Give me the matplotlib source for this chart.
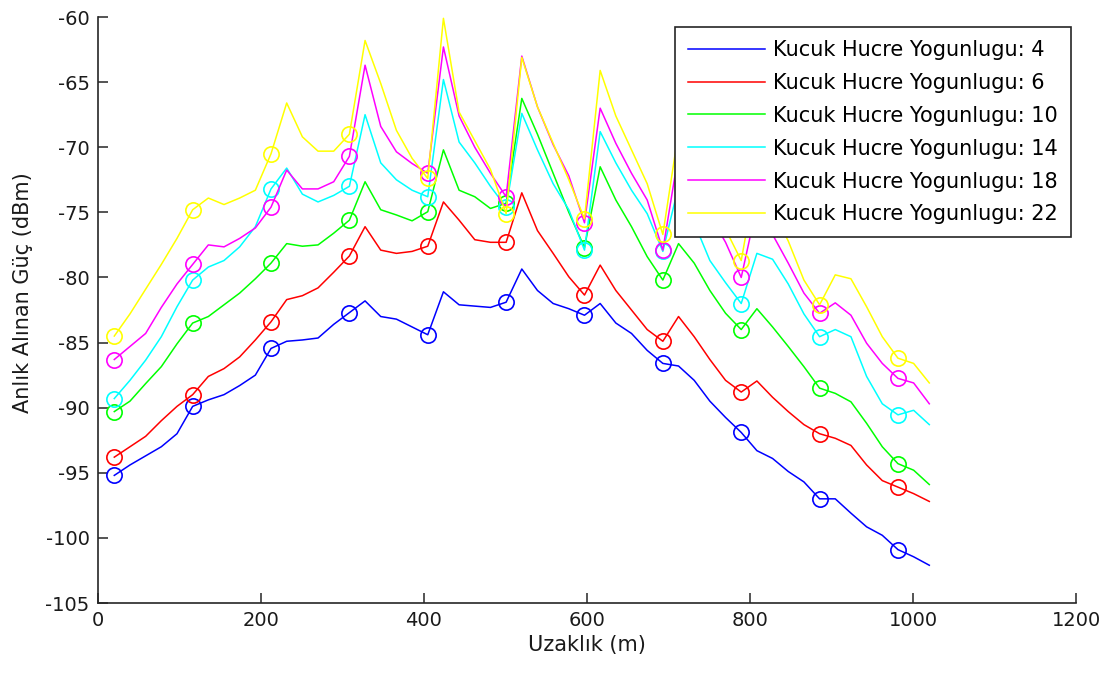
import numpy as np
import matplotlib
matplotlib.use('Agg')
import matplotlib.pyplot as plt

plt.rcParams['font.family'] = ['DejaVu Sans']
plt.rcParams['axes.unicode_minus'] = False

# distance samples (m), one every ~19.2 m
distance = np.linspace(20, 1020, 53)

density = [4, 6, 10, 14, 18, 22]
colors = ['#0000ff', '#ff0000', '#00ff00', '#00ffff', '#ff00ff', '#ffff00']

# received power (dBm)
power_4 = [-95.2, -94.4, -93.7, -93.0, -92.0, -89.9, -89.4, -89.0, -88.3, -87.5,
           -85.45, -84.9, -84.8, -84.65, -83.6, -82.7, -81.8, -83.0, -83.2, -83.8,
           -84.4, -81.1, -82.1, -82.2, -82.3, -81.9, -79.35, -81.0, -82.0, -82.4,
           -82.9, -82.0, -83.5, -84.3, -85.6, -86.6, -86.8, -87.9, -89.5, -90.75,
           -91.9, -93.3, -93.9, -94.9, -95.7, -97.0, -97.0, -98.1, -99.15, -99.8,
           -100.9, -101.45, -102.1]
power_6 = [-93.8, -93.0, -92.2, -91.0, -89.9, -89.0, -87.6, -87.0, -86.1, -84.8,
           -83.4, -81.7, -81.4, -80.8, -79.6, -78.35, -76.1, -77.9, -78.15, -78.0,
           -77.6, -74.2, -75.6, -77.1, -77.3, -77.3, -73.5, -76.4, -78.15, -79.95,
           -81.35, -79.05, -81.0, -82.5, -84.0, -84.9, -83.0, -84.55, -86.3, -87.9,
           -88.8, -87.95, -89.2, -90.3, -91.3, -92.0, -92.35, -92.9, -94.4, -95.6,
           -96.1, -96.6, -97.2]
power_10 = [-90.3, -89.5, -88.15, -86.85, -85.1, -83.5, -83.0, -82.1, -81.2, -80.1,
            -78.9, -77.4, -77.6, -77.5, -76.6, -75.6, -72.65, -74.8, -75.2, -75.65,
            -74.95, -70.2, -73.3, -73.8, -74.7, -74.3, -66.25, -69.0, -72.0, -75.0,
            -77.7, -71.5, -74.05, -76.1, -78.4, -80.2, -77.4, -78.9, -81.0, -82.75,
            -84.0, -82.4, -83.8, -85.3, -86.85, -88.5, -88.9, -89.55, -91.2, -93.0,
            -94.3, -94.8, -95.9]
power_14 = [-89.3, -87.9, -86.35, -84.55, -82.25, -80.2, -79.2, -78.7, -77.65, -76.1,
            -73.2, -71.6, -73.6, -74.2, -73.7, -73.0, -67.5, -71.2, -72.5, -73.3,
            -73.8, -64.8, -69.6, -71.2, -73.0, -74.6, -67.4, -70.2, -72.8, -74.8,
            -77.9, -68.8, -71.2, -73.3, -75.1, -78.0, -73.0, -75.8, -78.7, -80.4,
            -82.0, -78.15, -78.6, -80.5, -82.8, -84.55, -84.0, -84.55, -87.6, -89.7,
            -90.55, -90.2, -91.3]
power_18 = [-86.3, -85.3, -84.3, -82.3, -80.5, -79.0, -77.5, -77.65, -77.0, -76.2,
            -74.6, -71.75, -73.2, -73.2, -72.65, -70.7, -63.7, -68.4, -70.35, -71.25,
            -72.0, -62.3, -67.6, -70.0, -72.0, -73.8, -63.0, -66.9, -69.8, -72.2,
            -75.8, -67.0, -69.7, -72.0, -74.05, -77.9, -70.5, -73.0, -75.2, -77.3,
            -80.0, -74.5, -76.7, -78.9, -81.2, -82.75, -81.95, -82.9, -85.05, -86.6,
            -87.75, -88.1, -89.7]
power_22 = [-84.5, -82.8, -80.9, -79.0, -77.0, -74.8, -73.9, -74.4, -73.9, -73.3,
            -70.5, -66.6, -69.2, -70.3, -70.3, -69.0, -61.8, -65.1, -68.7, -70.85,
            -72.4, -60.1, -67.3, -69.5, -71.7, -75.1, -63.1, -66.9, -69.7, -72.5,
            -75.5, -64.1, -67.6, -70.2, -72.8, -76.7, -68.8, -71.2, -73.5, -76.3,
            -78.7, -72.0, -74.8, -77.2, -80.2, -82.1, -79.8, -80.1, -82.25, -84.55,
            -86.2, -86.6, -88.1]

series = [power_4, power_6, power_10, power_14, power_18, power_22]

fig = plt.figure(figsize=(11.11, 6.73), dpi=100)
ax = fig.add_axes([0.0882, 0.104, 0.8803, 0.8707])

for n, y, c in zip(density, series, colors):
    y = np.array(y)
    ax.plot(distance, y, color=c, lw=1.1, label='Kucuk Hucre Yogunlugu: %d' % n)
    # circles every 5th sample, kept out of the legend
    ax.plot(distance[::5], y[::5], 'o', color=c, mfc='none', ms=11, mew=1.2)

ax.set_xlim(0, 1200)
ax.set_ylim(-105, -60)
ax.set_xticks(np.arange(0, 1201, 200))
ax.set_yticks(np.arange(-105, -59, 5))

for s in ['top', 'right']:
    ax.spines[s].set_visible(False)
for s in ['left', 'bottom']:
    ax.spines[s].set_color('#262626')
    ax.spines[s].set_linewidth(1.2)
ax.tick_params(direction='in', length=7, width=1.1, labelsize=14, pad=6,
               colors='#262626', labelcolor='#1a1a1a')

ax.set_xlabel('Uzaklık (m)', fontsize=15, color='#1a1a1a', labelpad=3)
ax.set_ylabel('Anlık Alınan Güç (dBm)', fontsize=15, color='#1a1a1a')
ax.yaxis.set_label_coords(-0.066, 0.53)

leg = ax.legend(loc='upper right', bbox_to_anchor=(0.995, 0.983), borderaxespad=0,
                fontsize=15, fancybox=False, framealpha=1, edgecolor='#262626',
                handlelength=3.7, handletextpad=0.4, labelspacing=0.62, borderpad=0.62)
leg.get_frame().set_linewidth(1.2)

fig.savefig('out.png', dpi=100)
